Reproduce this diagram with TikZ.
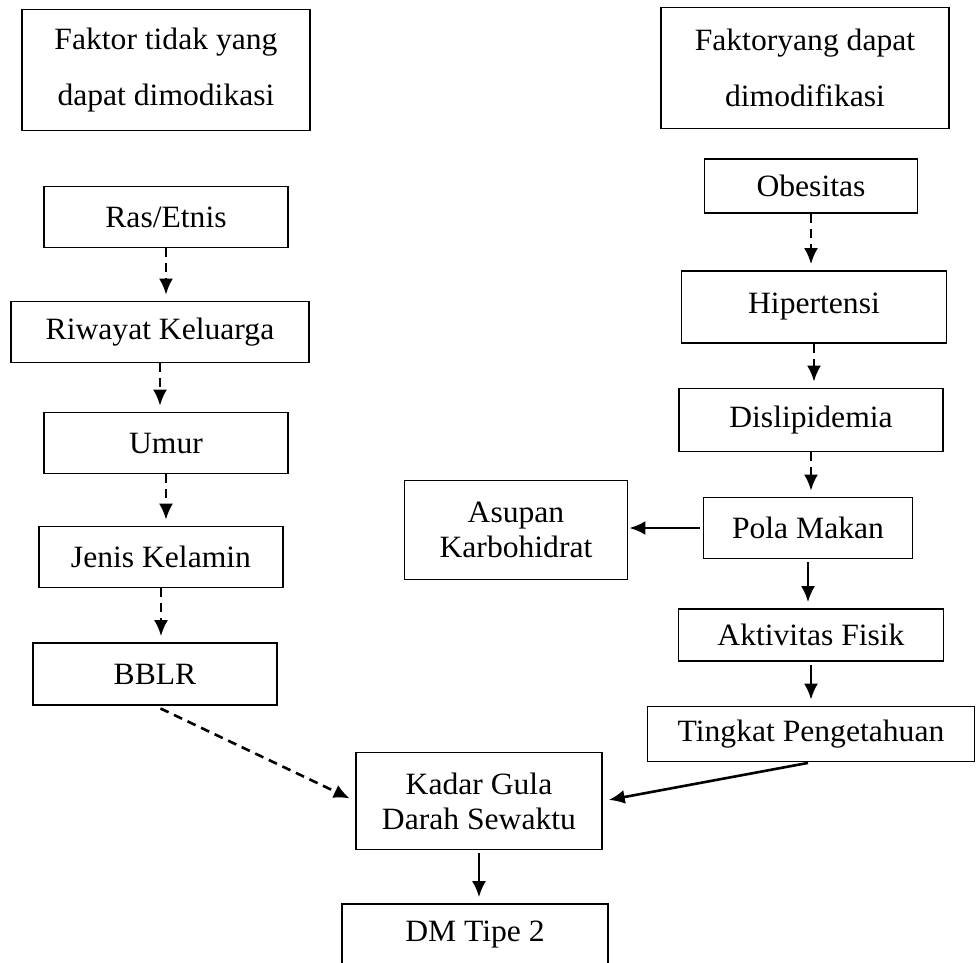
\documentclass[tikz,border=0pt]{standalone}
\usepackage{fontspec}
\setmainfont{Liberation Serif}[FakeStretch=1.02]
\usetikzlibrary{positioning,calc,arrows.meta}

\begin{document}
\begin{tikzpicture}[x=1pt,y=-1pt,every node/.style={draw,line width=1.7pt,inner sep=0pt,align=center,font=\fontsize{31}{35}\selectfont},
  dashline/.style={->,>={Latex[width=14pt,length=16pt]},line width=2.6pt,dash pattern=on 9pt off 6pt,shorten >=6pt},
  solidline/.style={->,>={Latex[width=14pt,length=16pt]},line width=2.6pt,shorten >=6pt,shorten <=3pt}]
\useasboundingbox (0,0) rectangle (976,962);

\node[minimum width=288pt,minimum height=121pt](tidak) at (166,70) {Faktor tidak yang\\[21pt]dapat dimodikasi};
\node[minimum width=288pt,minimum height=121pt](dapat) at (805,68) {Faktoryang dapat\\[21pt]dimodifikasi};

\node[minimum width=244pt,minimum height=61pt](ras) at (166,217) {Ras/Etnis};
\node[minimum width=298pt,minimum height=61pt](riwayat) at (160,332) {Riwayat Keluarga};
\node[minimum width=244pt,minimum height=61pt](umur) at (166,443) {Umur};
\node[minimum width=244pt,minimum height=61pt](jenis) at (161,557) {Jenis Kelamin};
\node[minimum width=244pt,minimum height=62pt](bblr) at (155,674) {BBLR};

\node[minimum width=213pt,minimum height=54pt](obes) at (811,186) {Obesitas};
\node[minimum width=265pt,minimum height=72pt](hiper) at (814,307) {Hipertensi};
\node[minimum width=264pt,minimum height=63pt](disli) at (811,420) {Dislipidemia};
\node[minimum width=209pt,minimum height=61pt](pola) at (808,528) {Pola Makan};
\node[minimum width=223pt,minimum height=99pt](asupan) at (516,530) {Asupan\\Karbohidrat};
\node[minimum width=265pt,minimum height=52pt](aktiv) at (811,635) {Aktivitas Fisik};
\node[minimum width=327pt,minimum height=55pt](tingkat) at (811,734) {Tingkat Pengetahuan};

\node[minimum width=246pt,minimum height=97pt](kadar) at (479,801) {Kadar Gula\\Darah Sewaktu};
\node[minimum width=266pt,minimum height=62pt](dm) at (475,935) {DM Tipe 2};

\foreach \x/\y in {ras/riwayat,riwayat/umur,umur/jenis,jenis/bblr,obes/hiper,hiper/disli,disli/pola}{
	\draw[dashline](\x)--(\x|-\y.north);
}
\foreach \x/\y in {pola/aktiv,aktiv/tingkat,kadar/dm}{
	\draw[solidline](\x)--(\x|-\y.north);
}
\draw[solidline,shorten >=1pt](pola)--(pola-|asupan.east);
\draw[solidline](tingkat.south)--(kadar.east);
\draw[dashline,shorten <=6pt](bblr.south)--(kadar.west);
\end{tikzpicture}
\end{document}
